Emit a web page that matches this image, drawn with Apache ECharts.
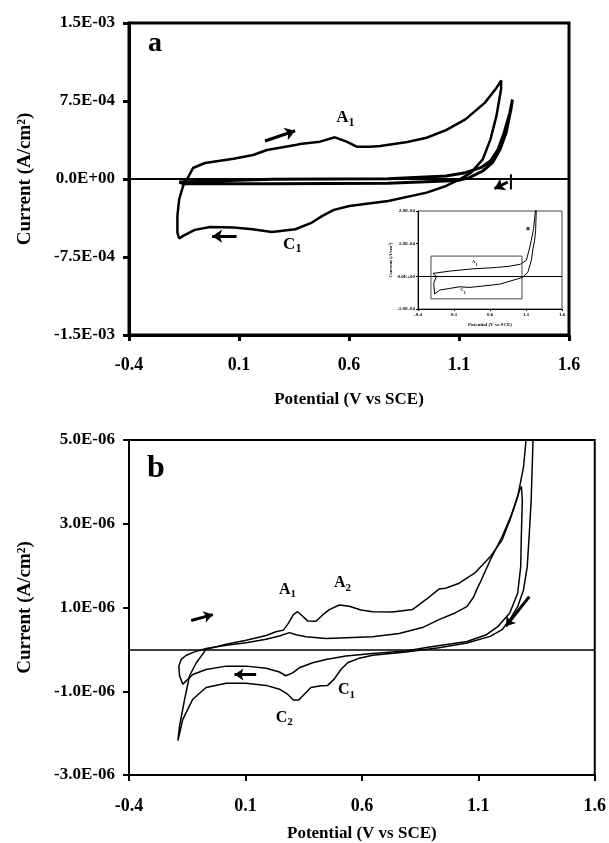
<!DOCTYPE html>
<html lang="en">
<head>
    <meta charset="UTF-8">
    <title>Cyclic voltammograms a / b</title>
    <script src="https://cdn.jsdelivr.net/npm/echarts@6/dist/echarts.min.js"></script>
    <style>
        body, html {
            margin: 0;
            background: #fff;
        }

        #chart {
            width: 609px;
            height: 843px;
        }
    </style>
</head>
<body>
<div id="chart"></div>
<script>
    // panel a : potential (V vs SCE), current in 1E-04 A/cm2
    const aOuterLoop = [[-0.154, -0.19], [-0.138, -0.1], [-0.109, 1.06], [-0.055, 1.54], [0.075, 1.95], [0.164, 2.31],
        [0.227, 2.79], [0.356, 3.26], [0.377, 3.37], [0.468, 3.59], [0.536, 4.01], [0.589, 3.59], [0.635, 3.11],
        [0.695, 3.11], [0.742, 3.17], [0.865, 3.55], [0.953, 3.97], [1.041, 4.70], [1.129, 5.73], [1.217, 7.32],
        [1.270, 8.76], [1.292, 9.47], [1.291, 8.60], [1.270, 6.04], [1.243, 3.81], [1.208, 1.89], [1.155, 0.61],
        [1.103, -0.03], [1.041, -0.67], [0.953, -1.31], [0.778, -2.11], [0.602, -2.59], [0.531, -2.97],
        [0.479, -3.55], [0.426, -4.25], [0.356, -4.83], [0.250, -5.09], [0.162, -4.83], [0.075, -4.67],
        [-0.031, -4.61], [-0.101, -4.89], [-0.154, -5.47], [-0.172, -5.72], [-0.180, -5.15], [-0.180, -3.55],
        [-0.172, -1.95], [-0.168, -1.83], [-0.154, -0.67], [-0.145, -0.19]];
    const aInnerLoop = [[-0.172, -0.30], [0.25, -0.02], [0.778, 0.02], [1.041, 0.29], [1.129, 0.61], [1.199, 1.09],
        [1.243, 1.73], [1.278, 2.85], [1.305, 4.45], [1.331, 6.36], [1.343, 7.64], [1.336, 6.68], [1.314, 4.45],
        [1.287, 2.85], [1.252, 1.57], [1.208, 0.77], [1.147, 0.13], [1.094, -0.15], [0.778, -0.40],
        [0.25, -0.45], [-0.154, -0.45], [-0.172, -0.30]];
    const aEndMark = [[1.336, 0.45], [1.336, -1.0]];
    const aArrows = [[[0.218, 3.65], [0.355, 4.64]], [[0.089, -5.5], [-0.022, -5.5]], [[1.322, -0.29], [1.261, -0.93]]];
    const aPeaks = [['A', '1', 0.584, 5.9], ['C', '1', 0.342, -6.27]];

    // inset of panel a : current in 1E-04 A/cm2
    const insetForward = [[-0.192, 0.09], [0.040, 0.16], [0.364, 0.23], [0.688, 0.27], [0.873, 0.31], [1.021, 0.37],
        [1.105, 0.49], [1.142, 0.80], [1.174, 1.10], [1.206, 1.46], [1.230, 2.0], [1.236, 2.2]];
    const insetReverse = [[1.245, 2.2], [1.234, 1.41], [1.220, 1.10], [1.197, 0.85], [1.174, 0.49], [1.128, 0.14],
        [1.058, -0.03], [0.734, -0.24], [0.318, -0.34], [0.179, -0.32], [0.040, -0.37], [-0.099, -0.42],
        [-0.169, -0.54], [-0.182, -0.22], [-0.145, 0.0], [-0.192, 0.09]];
    const insetZoomBox = [[-0.22, 0.62], [1.044, 0.62], [1.044, -0.69], [-0.22, -0.69], [-0.22, 0.62]];
    const insetMarker = [[1.128, 1.46]];
    const insetPeaks = [['A', '1', 0.387, 0.44], ['C', '1', 0.225, -0.42]];

    // panel b : current in 1E-06 A/cm2
    const bOuterLoop = [[1.338, 5.4], [1.335, 5.0], [1.327, 3.56], [1.319, 2.77], [1.310, 1.97], [1.294, 1.42],
        [1.269, 1.02], [1.235, 0.71], [1.202, 0.47], [1.151, 0.31], [1.051, 0.15], [0.931, 0.04], [0.789, -0.06],
        [0.646, -0.14], [0.589, -0.21], [0.539, -0.32], [0.510, -0.48], [0.481, -0.71], [0.453, -0.86],
        [0.424, -0.87], [0.381, -0.91], [0.353, -1.07], [0.329, -1.21], [0.306, -1.21], [0.281, -1.07],
        [0.246, -0.95], [0.189, -0.86], [0.103, -0.81], [0.017, -0.81], [-0.069, -0.91], [-0.126, -1.19],
        [-0.169, -1.67], [-0.190, -2.18], [-0.183, -1.83], [-0.161, -1.19], [-0.140, -0.63], [-0.111, -0.32],
        [-0.069, 0.0], [0.017, 0.12], [0.103, 0.22], [0.189, 0.33], [0.231, 0.42], [0.263, 0.46], [0.284, 0.62],
        [0.306, 0.83], [0.324, 0.90], [0.346, 0.79], [0.367, 0.68], [0.403, 0.67], [0.429, 0.81], [0.460, 0.95],
        [0.503, 1.06], [0.546, 1.03], [0.596, 0.94], [0.646, 0.90], [0.731, 0.89], [0.817, 0.95], [0.889, 1.25],
        [0.931, 1.44], [0.959, 1.46], [1.018, 1.58], [1.084, 1.82], [1.151, 2.21], [1.202, 2.61], [1.235, 3.08],
        [1.269, 3.64], [1.294, 4.35], [1.305, 5.0], [1.310, 5.4]];
    const bInnerLoop = [[-0.069, 0.02], [0.017, 0.10], [0.103, 0.16], [0.189, 0.24], [0.246, 0.32], [0.289, 0.40],
        [0.317, 0.35], [0.360, 0.30], [0.446, 0.26], [0.531, 0.28], [0.646, 0.30], [0.760, 0.38], [0.860, 0.52],
        [0.931, 0.71], [1.00, 0.87], [1.051, 1.02], [1.080, 1.25], [1.095, 1.45], [1.11, 1.62], [1.151, 2.13],
        [1.202, 2.69], [1.244, 3.24], [1.277, 3.80], [1.285, 3.89], [1.289, 3.56], [1.285, 2.77], [1.282, 1.97],
        [1.269, 1.34], [1.235, 0.87], [1.185, 0.55], [1.135, 0.35], [1.051, 0.19], [0.884, 0.05], [0.789, -0.04],
        [0.646, -0.10], [0.531, -0.16], [0.446, -0.24], [0.389, -0.32], [0.331, -0.44], [0.303, -0.56],
        [0.274, -0.63], [0.246, -0.54], [0.189, -0.45], [0.103, -0.40], [0.017, -0.40], [-0.069, -0.48],
        [-0.126, -0.60], [-0.169, -0.83], [-0.183, -0.63], [-0.186, -0.40], [-0.176, -0.24], [-0.154, -0.14],
        [-0.119, -0.06], [-0.069, 0.02]];
    const bArrows = [[[-0.133, 0.69], [-0.040, 0.83]], [[0.146, -0.60], [0.053, -0.60]], [[1.319, 1.26], [1.218, 0.55]]];
    const bPeaks = [['A', '1', 0.281, 1.43], ['A', '2', 0.517, 1.59], ['C', '1', 0.534, -0.97], ['C', '2', 0.267, -1.63]];

    const potentialTicks = [-0.4, 0.1, 0.6, 1.1, 1.6];

    const serif = 'Liberation Serif';

    function sciLabel(scale) {
        return function (v) {
            if (Math.abs(v) < 1e-9) return '0.0E+00';
            const parts = (v * scale).toExponential(1).split('e');
            const n = parseInt(parts[1], 10);
            return parts[0] + 'E' + (n < 0 ? '-' : '+') + String(Math.abs(n)).padStart(2, '0');
        };
    }

    function xAxisFor(gridIndex, opts) {
        return {
            type: 'value', gridIndex: gridIndex,
            min: potentialTicks[0], max: potentialTicks[potentialTicks.length - 1],
            interval: potentialTicks[1] - potentialTicks[0],
            name: 'Potential (V vs SCE)', nameLocation: 'middle', nameGap: opts.nameGap,
            nameTextStyle: {fontFamily: serif, fontWeight: 'bold', fontSize: opts.nameSize, color: '#000'},
            axisLine: {show: true, onZero: false, lineStyle: {color: '#000', width: opts.lw}},
            axisTick: {show: true, length: opts.tick, lineStyle: {color: '#000', width: opts.lw}},
            axisLabel: {
                margin: opts.margin, fontFamily: serif, fontWeight: 'bold', fontSize: opts.labelSize, color: '#000',
                formatter: v => v.toFixed(1)
            },
            splitLine: {show: false}
        };
    }

    function yAxisFor(gridIndex, opts) {
        return {
            type: 'value', gridIndex: gridIndex,
            min: opts.min, max: opts.max, interval: opts.interval,
            name: 'Current (A/cm²)', nameLocation: 'middle', nameGap: opts.nameGap,
            nameTextStyle: {fontFamily: serif, fontWeight: 'bold', fontSize: opts.nameSize, color: '#000'},
            axisLine: {show: true, onZero: false, lineStyle: {color: '#000', width: opts.lw}},
            axisTick: {show: true, length: opts.tick, lineStyle: {color: '#000', width: opts.lw}},
            axisLabel: {
                margin: opts.margin, fontFamily: serif, fontWeight: 'bold', fontSize: opts.labelSize, color: '#000',
                formatter: sciLabel(opts.scale)
            },
            splitLine: {show: false}
        };
    }

    function curve(data, axis, width, extra) {
        return Object.assign({
            type: 'line', xAxisIndex: axis, yAxisIndex: axis, data: data,
            symbol: 'none', showSymbol: false, clip: true, silent: true,
            lineStyle: {color: '#000', width: width}
        }, extra || {});
    }

    function zeroLine(width) {
        return {
            silent: true, symbol: 'none', label: {show: false},
            lineStyle: {color: '#000', type: 'solid', width: width},
            data: [{yAxis: 0}]
        };
    }

    function arrows(list, axis, width, head) {
        return {
            type: 'lines', coordinateSystem: 'cartesian2d', xAxisIndex: axis, yAxisIndex: axis, silent: true,
            symbol: ['none', 'arrow'], symbolSize: head,
            lineStyle: {color: '#000', width: width, opacity: 1},
            data: list.map(c => ({coords: c}))
        };
    }

    // letter + lowered index, e.g. A1, C2
    function peakLabels(list, axis, big, small) {
        const tokenStyle = {fontFamily: serif, fontWeight: 'bold', color: '#000', opacity: 1, textBorderWidth: 0};
        return {
            type: 'scatter', xAxisIndex: axis, yAxisIndex: axis, silent: true, symbolSize: 0,
            itemStyle: {color: '#000', opacity: 1},
            data: list.map(p => ({value: [p[2], p[3]], letter: p[0], sub: p[1]})),
            label: {
                show: true, position: 'inside', color: '#000', opacity: 1, textBorderWidth: 0,
                formatter: p => '{m|' + p.data.letter + '}{s|' + p.data.sub + '}',
                rich: {
                    m: Object.assign({fontSize: big, lineHeight: big + 5, verticalAlign: 'middle'}, tokenStyle),
                    s: Object.assign({fontSize: small, lineHeight: small - 1, verticalAlign: 'bottom'}, tokenStyle)
                }
            }
        };
    }

    const chart = echarts.init(document.getElementById('chart'), null, {renderer: 'canvas'});

    const option = {
        animation: false,
        backgroundColor: '#fff',
        grid: [
            {left: 129, top: 23, width: 440, height: 312, show: true, borderColor: '#000', borderWidth: 3, backgroundColor: 'transparent'},
            {left: 418, top: 211, width: 144, height: 98, show: true, borderColor: '#444', borderWidth: 1, backgroundColor: '#fff', z: 5},
            {left: 129, top: 440, width: 466, height: 336, show: true, borderColor: '#000', borderWidth: 2, backgroundColor: 'transparent'}
        ],
        xAxis: [
            xAxisFor(0, {nameGap: 56, nameSize: 17, lw: 3, tick: 6, margin: 21, labelSize: 18}),
            Object.assign(xAxisFor(1, {nameGap: 13, nameSize: 5, lw: 1, tick: 2, margin: 3, labelSize: 5}), {z: 6}),
            xAxisFor(2, {nameGap: 50, nameSize: 17, lw: 2, tick: 6, margin: 22, labelSize: 18})
        ],
        yAxis: [
            yAxisFor(0, {min: -15, max: 15, interval: 7.5, scale: 1e-4, nameGap: 94, nameSize: 19, lw: 3, tick: 6, margin: 14, labelSize: 17}),
            Object.assign(yAxisFor(1, {min: -1, max: 2, interval: 1, scale: 1e-4, nameGap: 22, nameSize: 5, lw: 1, tick: 2, margin: 3, labelSize: 5}), {z: 6}),
            yAxisFor(2, {min: -3, max: 5, interval: 2, scale: 1e-6, nameGap: 94, nameSize: 19, lw: 2, tick: 6, margin: 14, labelSize: 17})
        ],
        graphic: [
            {type: 'text', x: 148, y: 58, style: {text: 'a', font: 'bold 28px "Liberation Serif"', fill: '#000', verticalAlign: 'bottom'}},
            {type: 'text', x: 147, y: 485, style: {text: 'b', font: 'bold 32px "Liberation Serif"', fill: '#000', verticalAlign: 'bottom'}}
        ],
        series: [
            curve(aOuterLoop, 0, 2.5, {markLine: zeroLine(2)}),
            curve(aInnerLoop, 0, 3),
            curve(aEndMark, 0, 2),
            arrows(aArrows, 0, 3, 10),
            peakLabels(aPeaks, 0, 17, 12),

            curve(insetForward, 1, 1, {z: 7, markLine: zeroLine(1)}),
            curve(insetReverse, 1, 1, {z: 7}),
            curve(insetZoomBox, 1, 1, {z: 7, lineStyle: {color: '#444', width: 1}}),
            {
                type: 'scatter', xAxisIndex: 1, yAxisIndex: 1, z: 7, silent: true, data: insetMarker,
                symbol: 'rect', symbolSize: 3, itemStyle: {color: '#000'}
            },
            Object.assign(peakLabels(insetPeaks, 1, 5, 4), {z: 7}),

            curve(bOuterLoop, 2, 1.5, {markLine: zeroLine(1.5)}),
            curve(bInnerLoop, 2, 1.5),
            arrows(bArrows, 2, 3, 9),
            peakLabels(bPeaks, 2, 16, 11)
        ]
    };

    chart.setOption(option);
</script>
</body>
</html>
